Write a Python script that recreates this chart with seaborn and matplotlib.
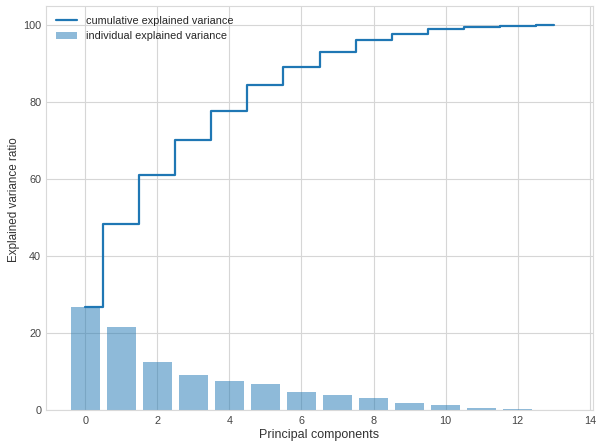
import numpy as np
import pandas as pd
import matplotlib
matplotlib.use("Agg")
import matplotlib.pyplot as plt
import seaborn as sns

# Explained variance (%) per principal component
components = list(range(14))
individual_var = [26.8, 21.6, 12.6, 9.2, 7.5, 6.7, 4.8, 3.8, 3.1, 1.7, 1.2, 0.6, 0.3, 0.1]
cumulative_var = list(np.cumsum(individual_var))

df = pd.DataFrame({"pc": components, "ind": individual_var, "cum": cumulative_var})

sns.set_style("whitegrid", {"grid.color": "0.84", "axes.edgecolor": "0.85"})
plt.rcParams["font.family"] = ["Liberation Sans", "DejaVu Sans"]

fig = plt.figure(figsize=(5.96, 4.44), dpi=100)
ax = fig.add_axes([46 / 596, 34 / 444, 547 / 596, 404 / 444])

sns.barplot(data=df, x="pc", y="ind", native_scale=True, color="#1f77b4",
            saturation=1, alpha=0.5, width=0.8, linewidth=0, ax=ax,
            label="individual explained variance")
sns.lineplot(data=df, x="pc", y="cum", drawstyle="steps-mid", color="#1f77b4",
             linewidth=1.6, ax=ax, label="cumulative explained variance")

ax.set_xlim(-1.09, 14.09)
ax.set_ylim(0, 105)
ax.set_xticks(range(0, 15, 2))
ax.set_yticks(range(0, 101, 20))
ax.tick_params(axis="y", labelsize=7.8, colors="#444444", pad=0)
ax.tick_params(axis="x", labelsize=7.8, colors="#444444", pad=1)
ax.set_xlabel("Principal components", fontsize=9, color="#333333", labelpad=2)
ax.set_ylabel("Explained variance ratio", fontsize=8.4, color="#333333")
ax.yaxis.set_label_coords(-0.048, 0.52)

handles, labels = ax.get_legend_handles_labels()
order = [labels.index("cumulative explained variance"),
         labels.index("individual explained variance")]
ax.legend([handles[i] for i in order], [labels[i] for i in order],
          loc="upper left", frameon=False, fontsize=7.8)

fig.savefig("out.png", dpi=100)
